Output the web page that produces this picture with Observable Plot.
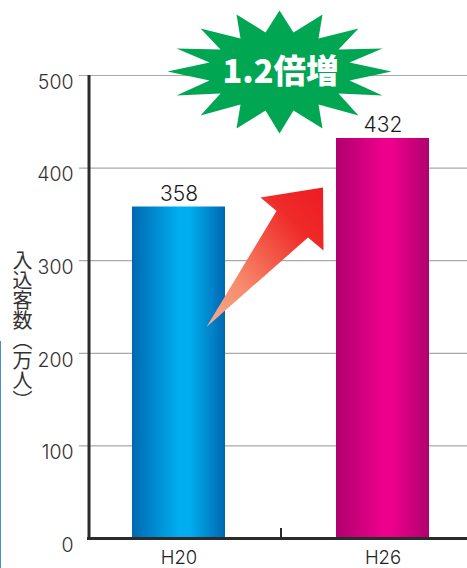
<!DOCTYPE html>
<html><head><meta charset="utf-8">
<script src="https://cdn.jsdelivr.net/npm/d3@7"></script>
<script src="https://cdn.jsdelivr.net/npm/@observablehq/plot@0.6"></script>
<style>html,body{margin:0;padding:0;background:#fff;overflow:hidden}svg{display:block}</style>
</head><body><div id="chart"></div>
<script>
const periods = ["H20", "H26"];
const admissions = [358, 432];
const yTicks = [0, 100, 200, 300, 400, 500];
const yAxisLabel = "入込客数（万人）";
const burstLabel = "1.2倍増";
const barGradients = ["blueBar", "pinkBar"];
const rows = periods.map((p, i) => ({period: p, value: admissions[i], grad: barGradients[i]}));

// Annotation shapes, drawn as custom dot symbols relative to their anchor
const burstOuter = [[0,-61],[43,-57],[79,-43],[103,-23],[112,0],[103,24],[79,44],[43,57],[0,62],[-43,57],[-79,44],[-103,24],[-112,0],[-103,-23],[-79,-43],[-43,-57]];
const burstInner = [[14,-39],[39,-33],[59,-22],[70,-9],[70,9],[59,22],[39,33],[14,39],[-14,39],[-39,33],[-59,22],[-70,9],[-70,-9],[-59,-22],[-39,-33],[-14,-39]];
const arrowShape = [[0,0],[70,-116],[54,-129.5],[116.5,-139.5],[117,-76.5],[101.5,-89.5]];

const symbolOf = pts => ({draw(c) { pts.forEach((p, i) => i ? c.lineTo(p[0], p[1]) : c.moveTo(p[0], p[1])); c.closePath(); }});
const burstPts = burstOuter.flatMap((p, i) => [p, burstInner[i]]);
const px = v => ({value: () => v, scale: null});
// An x channel is shifted by half the band width on a band scale
const halfBand = 46.5;
const pxX = v => px(v - halfBand);

const latin = "'Inter','Noto Sans CJK JP',sans-serif";
const defs = () => {
  const s = d3.create("svg:defs");
  const grad = (id, stops, x1, y1, x2, y2) => {
    const g = s.append("linearGradient").attr("id", id).attr("x1", x1).attr("y1", y1).attr("x2", x2).attr("y2", y2);
    stops.forEach(([o, c]) => g.append("stop").attr("offset", o).attr("stop-color", c));
  };
  grad("blueBar", [[0,"#0068b2"],[0.5,"#00aeef"],[0.62,"#00aeef"],[1,"#0068b2"]], 0, 0, 1, 0);
  grad("pinkBar", [[0,"#b0006e"],[0.5,"#ec008c"],[0.6,"#ec008c"],[1,"#b0006e"]], 0, 0, 1, 0);
  grad("arrowFill", [[0,"#f9ab8f"],[0.3,"#f78a6c"],[0.75,"#ef2a28"],[1,"#ed1c24"]], 0, 1, 1, 0);
  return s.node();
};
const vertical = (index, scales, values, dims, ctx, next) => {
  const g = next(index, scales, values, dims, ctx);
  d3.select(g).selectAll("text").style("writing-mode", "vertical-rl");
  return g;
};

const chart = Plot.plot({
  width: 467, height: 568,
  marginLeft: 0, marginRight: 0, marginTop: 0, marginBottom: 0,
  style: {fontFamily: latin, background: "#fff", overflow: "hidden"},
  x: {domain: periods, range: [21, 540], padding: 0.544, round: false, axis: null},
  y: {domain: [0, 500], range: [538, 75], axis: null},
  marks: [
    defs,
    Plot.ruleX([0], {x: pxX(0), y1: px(341), y2: px(568), stroke: "#4a90cf", strokeWidth: 1}),
    Plot.ruleY(yTicks.filter(d => d > 0), {y: d => d, x1: px(79), x2: px(467), stroke: "#a9a9a9", strokeWidth: 1.2}),
    Plot.barY(rows, {x: "period", y: "value", fill: d => `url(#${d.grad})`}),
    Plot.ruleX([0], {x: pxX(88.5), y1: 0, y2: 500, stroke: "#2b2b2b", strokeWidth: 3}),
    Plot.ruleY([0], {x1: px(87), x2: px(467), y: d => d, stroke: "#2b2b2b", strokeWidth: 3}),
    Plot.ruleX([0], {x: pxX(280.5), y1: px(528), y2: px(538), stroke: "#2b2b2b", strokeWidth: 2}),
    Plot.text(yTicks, {x: pxX(73), y: d => d, text: d => String(d), dy: 7, textAnchor: "end", fontSize: 19.5, fontWeight: 300, fill: "#333"}),
    Plot.text(rows, {x: "period", y: "value", text: d => String(d.value), dy: -13, fontSize: 21, fontWeight: 300, fill: "#1a1a1a"}),
    Plot.text(periods, {x: d => d, y: px(558), text: d => d, fontSize: 18.5, fontWeight: 300, fill: "#222"}),
    Plot.text([yAxisLabel], {x: pxX(22), y: px(244), text: d => d, fontFamily: "'Noto Sans CJK JP'", fontSize: 20, textAnchor: "start", fill: "#333", render: vertical}),
    Plot.dot([0], {x: pxX(206), y: px(326.5), symbol: symbolOf(arrowShape), fill: "url(#arrowFill)", stroke: "none"}),
    Plot.dot([0], {x: pxX(279), y: px(71), symbol: symbolOf(burstPts), fill: "#00a651", stroke: "none"}),
    Plot.text([burstLabel], {x: pxX(280), y: px(72), text: d => d, fontFamily: "'Noto Sans CJK JP'", fontSize: 32.5, fontWeight: 900, fill: "#fff"})
  ]
});
document.getElementById("chart").append(chart);
</script></body></html>
